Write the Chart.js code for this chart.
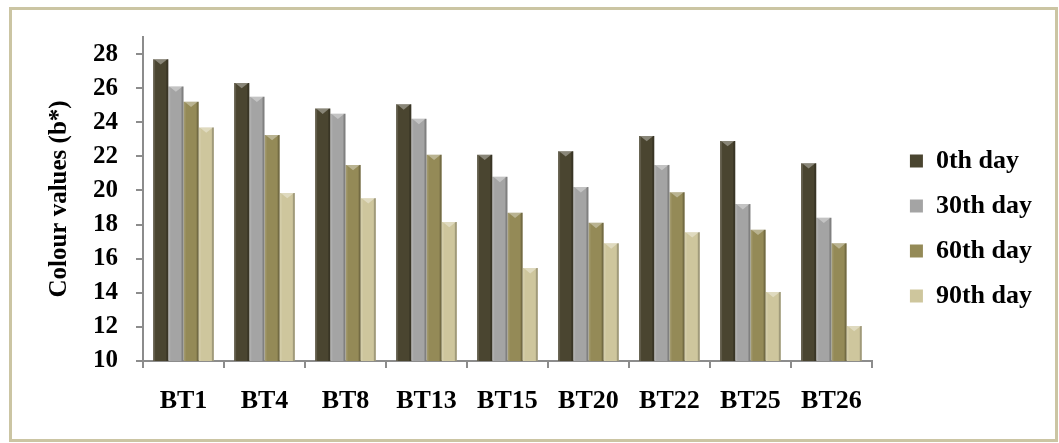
<!DOCTYPE html>
<html>
<head>
<meta charset="utf-8">
<script src="https://cdn.jsdelivr.net/npm/chart.js@4/dist/chart.umd.min.js"></script>
<style>
    html, body { margin: 0; padding: 0; background: #fff; }
    #wrap { position: relative; width: 1059px; height: 443px; }
    #frame {
        position: absolute; left: 9px; top: 7px; width: 1043px; height: 429px;
        border: 3px solid #cbc5a3; pointer-events: none;
    }
    canvas { position: absolute; left: 0; top: 0; }
</style>
</head>
<body>
<div id="wrap">
    <div id="frame"></div>
    <canvas id="colourChart" width="1059" height="443"></canvas>
</div>
<script>
// 数据
const categories = ['BT1', 'BT4', 'BT8', 'BT13', 'BT15', 'BT20', 'BT22', 'BT25', 'BT26'];
const day0 = [27.7, 26.3, 24.8, 25.05, 22.1, 22.3, 23.2, 22.9, 21.6];
const day30 = [26.1, 25.5, 24.5, 24.2, 20.8, 20.2, 21.5, 19.2, 18.4];
const day60 = [25.2, 23.25, 21.5, 22.1, 18.7, 18.1, 19.9, 17.7, 16.9];
const day90 = [23.7, 19.85, 19.55, 18.15, 15.45, 16.9, 17.55, 14.05, 12.05];
const yTicks = [10, 12, 14, 16, 18, 20, 22, 24, 26, 28];
const seriesNames = ['0th day', '30th day', '60th day', '90th day'];
const seriesColors = ['#4a4530', '#a4a4a4', '#948a57', '#cec69d'];

const FONT = "'Liberation Serif', 'Times New Roman', serif";
const AXIS_GREY = '#8c8c8c';

// 柱子斜面效果
const bevelPlugin = {
    id: 'bevel',
    afterDatasetsDraw(chart) {
        const ctx = chart.ctx;
        const bottom = chart.chartArea.bottom;
        chart.data.datasets.forEach((ds, i) => {
            const meta = chart.getDatasetMeta(i);
            meta.data.forEach(bar => {
                const { x, y, width } = bar.getProps(['x', 'y', 'width'], true);
                const l = x - width / 2, r = x + width / 2;
                const h = bottom - y;
                ctx.save();
                ctx.fillStyle = 'rgba(255,255,255,0.12)';
                ctx.fillRect(l, y, 2, h);
                ctx.fillStyle = 'rgba(0,0,0,0.22)';
                ctx.fillRect(r - 2, y, 2, h);
                ctx.beginPath();
                ctx.moveTo(l + 1, y);
                ctx.lineTo(r - 1, y);
                ctx.lineTo(x, y + width * 0.35);
                ctx.closePath();
                ctx.fillStyle = 'rgba(255,255,255,0.35)';
                ctx.fill();
                ctx.restore();
            });
        });
    }
};

new Chart(document.getElementById('colourChart').getContext('2d'), {
    type: 'bar',
    data: {
        labels: categories,
        datasets: [day0, day30, day60, day90].map((d, i) => ({
            label: seriesNames[i],
            data: d,
            backgroundColor: seriesColors[i],
            borderWidth: 0,
            categoryPercentage: 0.75,
            barPercentage: 1.0
        }))
    },
    options: {
        responsive: false,
        animation: false,
        layout: { padding: { top: 37, bottom: 23, left: 12, right: 17 } },
        plugins: {
            tooltip: { enabled: false },
            legend: {
                position: 'right',
                labels: {
                    boxWidth: 13,
                    boxHeight: 13,
                    padding: 19,
                    color: '#000',
                    font: { family: FONT, size: 26, weight: 'bold' }
                }
            }
        },
        scales: {
            x: {
                grid: {
                    offset: true,
                    drawOnChartArea: false,
                    tickLength: 7,
                    color: AXIS_GREY,
                    lineWidth: 2
                },
                border: { color: AXIS_GREY, width: 2 },
                ticks: {
                    color: '#000',
                    padding: 18,
                    maxRotation: 0,
                    font: { family: FONT, size: 26, weight: 'bold' }
                },
                afterFit(s) { s.height = 59; }
            },
            y: {
                min: 10,
                max: 29,
                grid: {
                    drawOnChartArea: false,
                    tickLength: 7,
                    color: AXIS_GREY,
                    lineWidth: 2
                },
                border: { color: AXIS_GREY, width: 2 },
                ticks: {
                    color: '#000',
                    padding: 18,
                    font: { family: FONT, size: 25, weight: 'bold' }
                },
                afterBuildTicks(s) {
                    s.ticks = yTicks.map(v => ({ value: v }));
                },
                title: {
                    display: true,
                    text: 'Colour values (b*)',
                    color: '#000',
                    padding: { top: 33, bottom: 0 },
                    font: { family: FONT, size: 25, weight: 'bold' }
                },
                afterFit(s) { s.width = 131; }
            },
            // 右侧留白
            gap: {
                type: 'linear',
                position: 'right',
                display: true,
                grid: { display: false },
                border: { display: false },
                ticks: { display: false },
                afterFit(s) { s.width = 19; }
            }
        }
    },
    plugins: [bevelPlugin]
});
</script>
</body>
</html>
